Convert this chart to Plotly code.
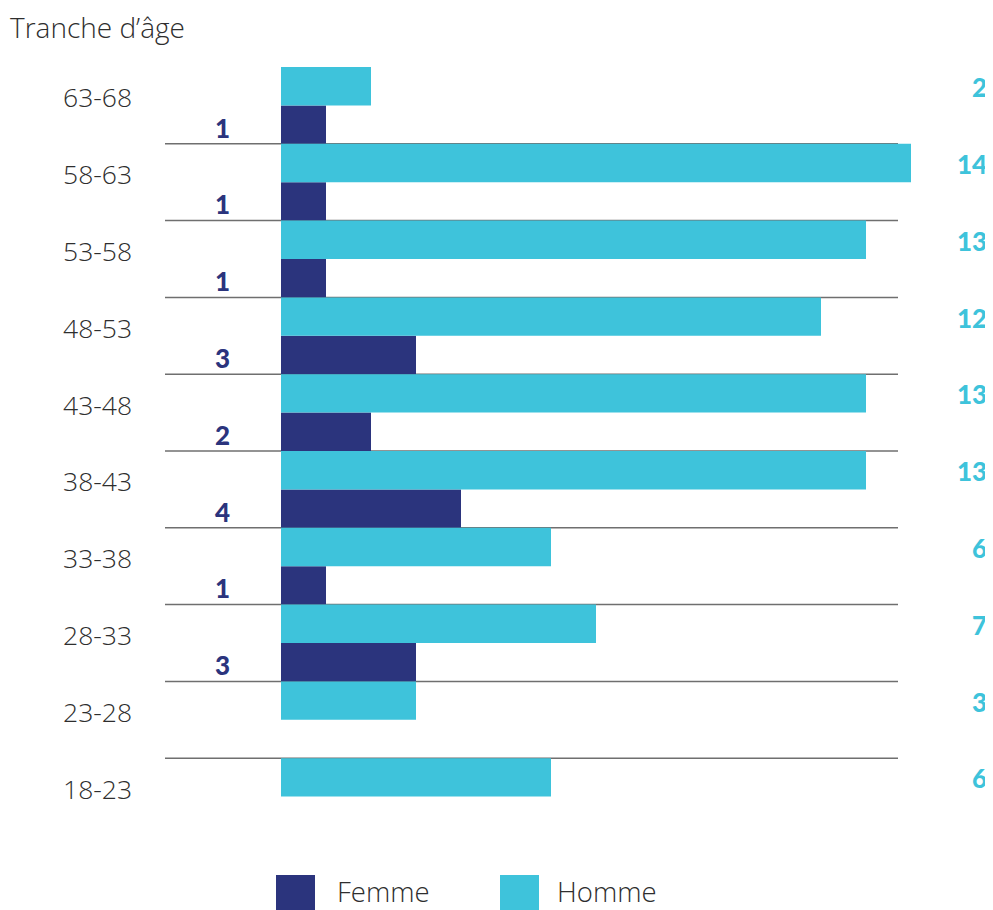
import plotly.graph_objects as go

categories = ["18-23", "23-28", "28-33", "33-38", "38-43", "43-48", "48-53", "53-58", "58-63", "63-68"]
femme = [0, 0, 3, 1, 4, 2, 3, 1, 1, 1]
homme = [6, 3, 7, 6, 13, 13, 12, 13, 14, 2]
series_names = ["Femme", "Homme"]
axis_title = "Tranche d’âge"

C_F = "#2B347D"
C_H = "#3EC3DB"
FONT = "Open Sans"
NUMFONT = "Lato"
TXT = "#2e2e2e"
OFF = 8  # page body margin
W, H = 993 - OFF, 910 - OFF
PX_PER_UNIT = 45.0
X0_PX = 281.0 - OFF
T, B = 67 - OFF, 910 - 835  # plot area from 67 to 835 in reference px

def dx(px):
    return (px - OFF - X0_PX) / PX_PER_UNIT

plot_h = H - T - B
def py(px):
    return (H - B - (px - OFF)) / plot_h

def pxx(px):
    return (px - OFF) / W

pos = list(range(len(categories)))

fig = go.Figure()
fig.add_trace(go.Bar(y=pos, x=femme, orientation="h", width=0.5, offset=-0.5,
                     marker=dict(color=C_F, line=dict(width=0)), name=series_names[0],
                     showlegend=False, hoverinfo="x+name"))
fig.add_trace(go.Bar(y=pos, x=homme, orientation="h", width=0.5, offset=0,
                     marker=dict(color=C_H, line=dict(width=0)), name=series_names[1],
                     showlegend=False, hoverinfo="x+name"))

shapes = []
annotations = []
for i, cat in enumerate(categories):
    if i > 0:
        shapes.append(dict(type="line", xref="x", yref="y", x0=dx(165), x1=dx(898),
                           y0=i - 0.5, y1=i - 0.5, line=dict(color="#6f6f6f", width=1.5),
                           layer="below"))
    annotations.append(dict(x=dx(97), y=i, xref="x", yref="y", text=cat, showarrow=False,
                            xanchor="center", yanchor="middle", yshift=8,
                            font=dict(family=FONT, size=26.5, color=TXT, weight=300)))
    if femme[i] > 0:
        annotations.append(dict(x=dx(222), y=i - 0.25, xref="x", yref="y", text=str(femme[i]),
                                showarrow=False, xanchor="center", yanchor="middle", yshift=-3,
                                font=dict(family=NUMFONT, size=26, color=C_F, weight=900)))
    annotations.append(dict(x=dx(989), y=i + 0.25, xref="x", yref="y", text=str(homme[i]),
                            showarrow=False, xanchor="right", yanchor="middle", yshift=-1,
                            font=dict(family=NUMFONT, size=26, color=C_H, weight=900)))

annotations.append(dict(x=pxx(8), y=py(27), xref="paper", yref="paper", text=axis_title,
                        showarrow=False, xanchor="left", yanchor="middle",
                        font=dict(family=FONT, size=28, color=TXT, weight=300)))

legend_items = [(series_names[0], C_F, 276, 315, 335), (series_names[1], C_H, 500, 539, 555)]
for name, col, x0, x1, tx in legend_items:
    shapes.append(dict(type="rect", xref="paper", yref="paper", x0=pxx(x0), x1=pxx(x1),
                       y0=py(910), y1=py(875), fillcolor=col, line=dict(width=0)))
    annotations.append(dict(x=pxx(tx), y=py(891), xref="paper", yref="paper", text=name,
                            showarrow=False, xanchor="left", yanchor="middle",
                            font=dict(family=FONT, size=27.5, color=TXT, weight=300)))

fig.update_layout(
    width=W, height=H,
    margin=dict(l=0, r=0, t=T, b=B, pad=0),
    paper_bgcolor="white", plot_bgcolor="white",
    barmode="overlay",
    xaxis=dict(range=[dx(OFF), dx(993)], visible=False, fixedrange=True),
    yaxis=dict(range=[-0.5, len(categories) - 0.5], visible=False, fixedrange=True),
    shapes=shapes, annotations=annotations,
    showlegend=False,
)

fig.write_html("out.html")
